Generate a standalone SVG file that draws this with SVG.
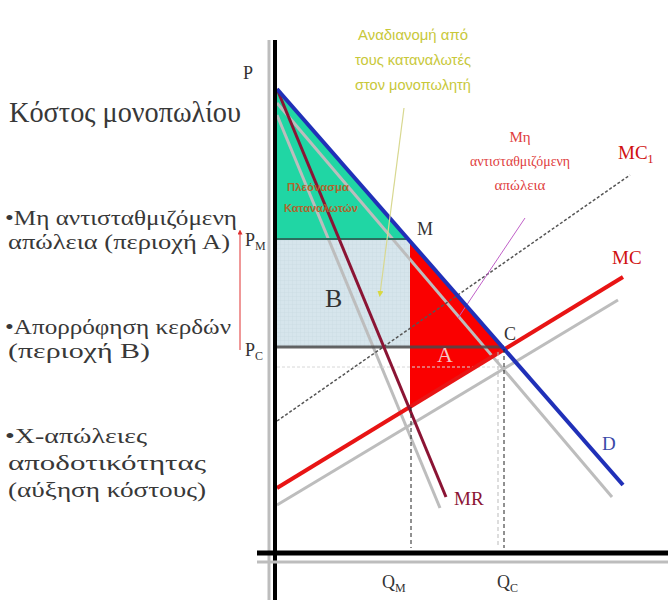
<svg xmlns="http://www.w3.org/2000/svg" width="668" height="600" viewBox="0 0 668 600">
<defs>
<style>
.serif{font-family:"Liberation Serif","DejaVu Serif",serif;}
.sans{font-family:"Liberation Sans","DejaVu Sans",sans-serif;}
.left{font-size:21px;fill:#383838;}
.lab{font-size:18px;fill:#333;}
.gray{stroke:#bdbdbd;stroke-width:3;fill:none;}
.dash{stroke:#222;stroke-width:1;stroke-dasharray:4,3;fill:none;}
</style>
<pattern id="grid" width="4" height="4" patternUnits="userSpaceOnUse">
<rect width="4" height="4" fill="#d6e5ec"/>
<path d="M0 0H4M0 0V4" stroke="#c4d6de" stroke-width="0.6"/>
</pattern>
<marker id="arrRed" viewBox="0 0 10 10" refX="5" refY="5" markerWidth="5" markerHeight="5" orient="auto">
<path d="M0 0L10 5L0 10Z" fill="#e03030"/>
</marker>
<marker id="arrYel" viewBox="0 0 10 10" refX="5" refY="5" markerWidth="5" markerHeight="5" orient="auto">
<path d="M0 0L10 5L0 10Z" fill="#d8d840"/>
</marker>
</defs>
<rect width="668" height="600" fill="#ffffff"/>

<g id="left-text" class="serif left">
<text x="9" y="122" font-size="30" textLength="232" lengthAdjust="spacingAndGlyphs">Κόστος μονοπωλίου</text>
<text x="5" y="225" textLength="232" lengthAdjust="spacingAndGlyphs">•Μη αντισταθμιζόμενη</text>
<text x="8" y="249" textLength="222" lengthAdjust="spacingAndGlyphs">απώλεια (περιοχή Α)</text>
<text x="5" y="334" textLength="226" lengthAdjust="spacingAndGlyphs">•Απορρόφηση κερδών</text>
<text x="8" y="358" textLength="142" lengthAdjust="spacingAndGlyphs">(περιοχή Β)</text>
<text x="5" y="443" textLength="142" lengthAdjust="spacingAndGlyphs">•Χ-απώλειες</text>
<text x="8" y="470" textLength="198" lengthAdjust="spacingAndGlyphs">αποδοτικότητας</text>
<text x="8" y="497" textLength="198" lengthAdjust="spacingAndGlyphs">(αύξηση κόστους)</text>
</g>

<g id="areas">
<polygon id="consumer-surplus" points="277,89 408,239 277,239" fill="#20d6a4"/>
<rect id="area-B" x="277" y="239" width="133" height="108" fill="url(#grid)"/>
<polygon id="area-A" points="410,241 504,349 410,407" fill="#fa0000"/>
</g>

<g id="connectors">
<line x1="277" y1="103" x2="612" y2="497" class="gray"/>
<line x1="277" y1="115" x2="440" y2="508" class="gray"/>
<line x1="277" y1="505" x2="618" y2="300" class="gray"/>
<line x1="277" y1="367" x2="500" y2="367" stroke="#d8d8d8" stroke-width="1" stroke-dasharray="3,2"/>
<line x1="277" y1="421" x2="630" y2="175" stroke="#555" stroke-width="1.5" stroke-dasharray="3,2"/>
<line x1="525" y1="218" x2="458" y2="318" stroke="#c060c8" stroke-width="1"/>
<line x1="277" y1="239" x2="408" y2="239" stroke="#2b6f5e" stroke-width="2"/>
<line x1="277" y1="347" x2="504" y2="347" stroke="#4a4a4a" stroke-width="3" opacity="0.85"/>
<line x1="277" y1="488" x2="623" y2="277" stroke="#e81414" stroke-width="4"/>
<line x1="277" y1="89" x2="446" y2="497" stroke="#8b1434" stroke-width="3"/>
<line x1="277" y1="89" x2="623" y2="485" stroke="#2030b8" stroke-width="4"/>
<line x1="411" y1="407" x2="411" y2="548" class="dash"/>
<line x1="498" y1="352" x2="498" y2="548" stroke="#bbb" stroke-width="1" stroke-dasharray="4,3"/>
<line x1="504" y1="349" x2="504" y2="548" class="dash"/>
<line x1="404" y1="108" x2="380" y2="294" stroke="#d8d890" stroke-width="1.2" marker-end="url(#arrYel)"/>
<line x1="240" y1="350" x2="240" y2="232" stroke="#e03030" stroke-width="1" marker-end="url(#arrRed)"/>
</g>

<g id="axes">
<line x1="269" y1="40" x2="269" y2="600" stroke="#bdbdbd" stroke-width="3"/>
<line x1="275" y1="40" x2="275" y2="600" stroke="#000" stroke-width="4"/>
<line x1="257" y1="562" x2="668" y2="562" stroke="#bdbdbd" stroke-width="3"/>
<line x1="257" y1="553" x2="668" y2="553" stroke="#000" stroke-width="5"/>
</g>

<g id="labels" class="serif">
<text x="243" y="79" class="lab">P</text>
<text x="245" y="246" class="lab">P<tspan font-size="12" dy="4">M</tspan></text>
<text x="245" y="356" class="lab">P<tspan font-size="12" dy="4">C</tspan></text>
<text x="417" y="235" class="lab">M</text>
<text x="504" y="340" class="lab">C</text>
<text x="437" y="362" font-size="22" fill="#f4c4c4">A</text>
<text x="325" y="307" font-size="26" fill="#333">B</text>
<text x="602" y="450" font-size="19" fill="#3a4aa8">D</text>
<text x="454" y="505" font-size="19" fill="#8b1434">MR</text>
<text x="382" y="588" class="lab">Q<tspan font-size="12" dy="4">M</tspan></text>
<text x="497" y="588" class="lab">Q<tspan font-size="12" dy="4">C</tspan></text>
<text x="612" y="264" font-size="19" fill="#d01010">MC</text>
<text x="618" y="159" font-size="19" fill="#d01010">MC<tspan font-size="12" dy="4">1</tspan></text>
</g>

<g id="note-red" class="serif" font-size="15" fill="#e04040" text-anchor="middle">
<text x="520" y="142">Μη</text>
<text x="520" y="166" textLength="100" lengthAdjust="spacingAndGlyphs">αντισταθμιζόμενη</text>
<text x="520" y="190">απώλεια</text>
</g>

<g id="note-yellow" class="sans" font-size="14" fill="#c8c83a" text-anchor="middle">
<text x="413" y="40" textLength="110" lengthAdjust="spacingAndGlyphs">Αναδιανομή από</text>
<text x="413" y="65" textLength="116" lengthAdjust="spacingAndGlyphs">τους καταναλωτές</text>
<text x="413" y="90" textLength="116" lengthAdjust="spacingAndGlyphs">στον μονοπωλητή</text>
</g>

<g id="note-surplus" class="sans" font-size="11" font-weight="bold" fill="#b0652c">
<text x="287" y="191" textLength="62" lengthAdjust="spacingAndGlyphs">Πλεόνασμα</text>
<text x="284" y="212" textLength="74" lengthAdjust="spacingAndGlyphs">Καταναλωτών</text>
</g>
</svg>
